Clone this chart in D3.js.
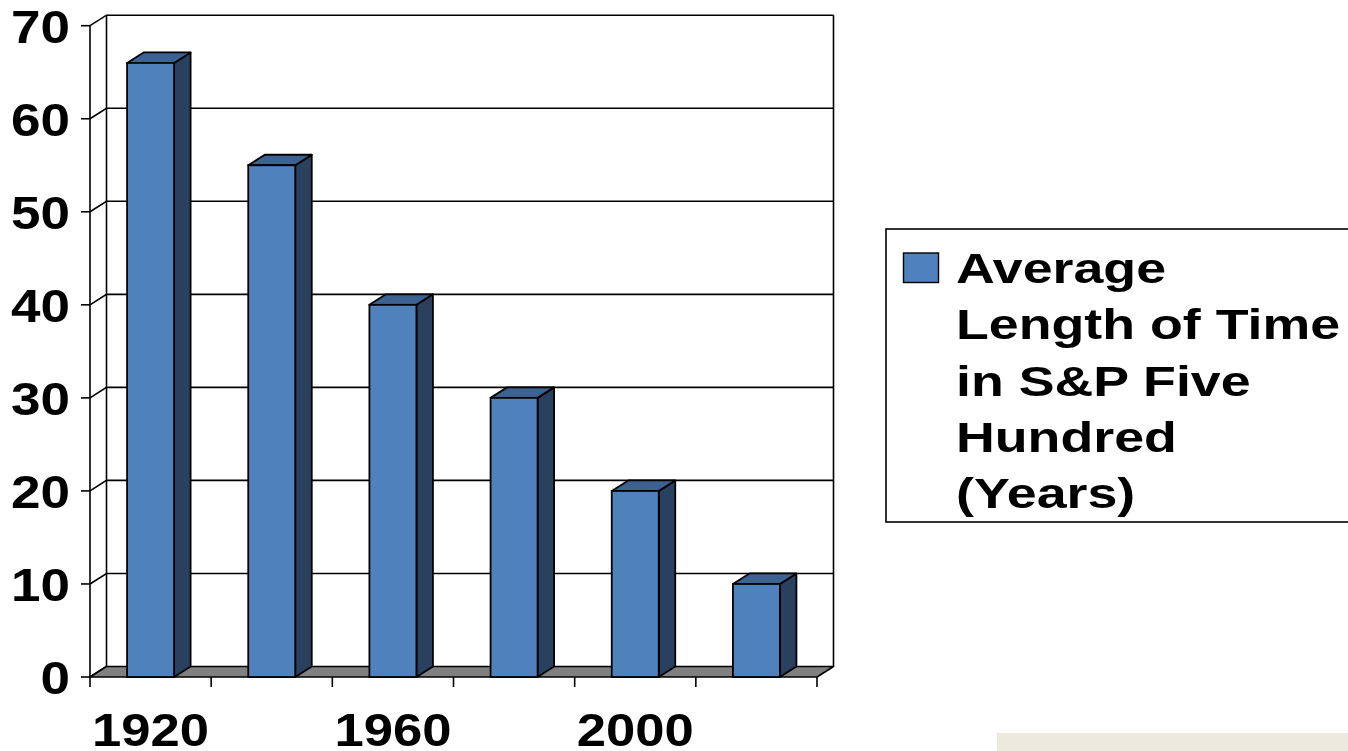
<!DOCTYPE html>
<html>
<head>
<meta charset="utf-8">
<script src="https://cdn.jsdelivr.net/npm/d3@7"></script>
<style>
  html, body { margin: 0; padding: 0; background: #fff; }
  svg { display: block; font-family: "Liberation Sans", Arial, sans-serif; font-weight: bold; }
</style>
</head>
<body>
<svg id="chart" width="1348" height="751"></svg>
<script>
// data
const years = ['1920', '1940', '1960', '1980', '2000', '2020'];
const avgYears = [66, 55, 40, 30, 20, 10];
const yTicks = [0, 10, 20, 30, 40, 50, 60, 70];
const xLabelYears = ['1920', '1960', '2000'];
const legendLines = ['Average', 'Length of Time', 'in S&P Five', 'Hundred', '(Years)'];

(function(){
  const svg = d3.select('#chart');

  // front plane of the 3d box, and the depth offset to the back wall
  const pL = 90, pR = 817, pB = 677, pT = 25.7;
  const dx = 16.5, dy = -10.5;

  const x = d3.scaleBand().domain(years).range([pL, pR])
    .paddingInner(0.612).paddingOuter(0.306);
  const y = d3.scaleLinear().domain([0, 70]).range([pB, pT]);
  const step = x.step();
  const edges = d3.range(years.length + 1).map(i => pL + i * step);

  const g = svg.append('g');

  // back wall gridlines + side-wall diagonals
  yTicks.forEach(t => {
    const yy = y(t);
    g.append('path')
      .attr('d', `M${pL},${yy}L${pL + dx},${yy + dy}` + (t > 0 ? `H${pR + dx}` : ''))
      .attr('fill', 'none').attr('stroke', '#000').attr('stroke-width', 1.6);
    g.append('line')
      .attr('x1', pL - 9).attr('x2', pL).attr('y1', yy).attr('y2', yy)
      .attr('stroke', '#000').attr('stroke-width', 1.6);
  });

  // back wall frame
  g.append('path')
    .attr('d', `M${pL + dx},${pB + dy}V${pT + dy}M${pR + dx},${pT + dy}V${pB + dy}`)
    .attr('fill', 'none').attr('stroke', '#000').attr('stroke-width', 1.6);

  // floor
  g.append('path')
    .attr('d', `M${pL},${pB}L${pR},${pB}L${pR + dx},${pB + dy}L${pL + dx},${pB + dy}Z`)
    .attr('fill', '#808080').attr('stroke', '#000').attr('stroke-width', 1.6).attr('stroke-linejoin', 'round');

  // front axis line and x ticks
  g.append('line')
    .attr('x1', pL).attr('x2', pL).attr('y1', pT).attr('y2', pB)
    .attr('stroke', '#000').attr('stroke-width', 1.6);
  g.selectAll('.xtick').data(edges).join('line')
    .attr('class', 'xtick')
    .attr('x1', d => d).attr('x2', d => d).attr('y1', pB).attr('y2', pB + 10)
    .attr('stroke', '#000').attr('stroke-width', 1.6);

  // 3d bars
  const bars = g.selectAll('.bar').data(years.map((yr, i) => ({ yr, v: avgYears[i] }))).join('g')
    .attr('class', 'bar');
  const bw = x.bandwidth();
  bars.append('path') // side
    .attr('d', d => {
      const x1 = x(d.yr) + bw, y0 = y(d.v);
      return `M${x1},${pB}L${x1 + dx},${pB + dy}L${x1 + dx},${y0 + dy}L${x1},${y0}Z`;
    })
    .attr('fill', '#29405F').attr('stroke', '#000').attr('stroke-width', 1.8).attr('stroke-linejoin', 'round');
  bars.append('path') // top
    .attr('d', d => {
      const x0 = x(d.yr), y0 = y(d.v);
      return `M${x0},${y0}L${x0 + bw},${y0}L${x0 + bw + dx},${y0 + dy}L${x0 + dx},${y0 + dy}Z`;
    })
    .attr('fill', '#3C6291').attr('stroke', '#000').attr('stroke-width', 1.8).attr('stroke-linejoin', 'round');
  bars.append('rect') // front
    .attr('x', d => x(d.yr)).attr('y', d => y(d.v))
    .attr('width', bw).attr('height', d => pB - y(d.v))
    .attr('fill', '#4F81BD').attr('stroke', '#000').attr('stroke-width', 1.8);

  // y labels
  g.selectAll('.ylab').data(yTicks).join('text')
    .attr('class', 'ylab')
    .attr('transform', d => `translate(70,${y(d) + 17}) scale(1.14,1)`)
    .attr('text-anchor', 'end').attr('font-size', 46.5)
    .text(d => d);

  // x labels
  g.selectAll('.xlab').data(xLabelYears).join('text')
    .attr('class', 'xlab')
    .attr('transform', d => `translate(${x(d) + bw / 2},746) scale(1.12,1)`)
    .attr('text-anchor', 'middle').attr('font-size', 47)
    .text(d => d);

  // legend
  const lg = svg.append('g');
  lg.append('rect')
    .attr('x', 886).attr('y', 229).attr('width', 470).attr('height', 293)
    .attr('fill', '#fff').attr('stroke', '#000').attr('stroke-width', 1.6);
  lg.append('rect')
    .attr('x', 903.5).attr('y', 253).attr('width', 35).attr('height', 29.5)
    .attr('fill', '#4F81BD').attr('stroke', '#000').attr('stroke-width', 1.4);
  lg.selectAll('.leg').data(legendLines).join('text')
    .attr('class', 'leg')
    .attr('transform', (d, i) => `translate(956,${283 + i * 56.3}) scale(1.25,1)`)
    .attr('font-size', 43)
    .text(d => d);

  // beige strip bottom right
  svg.append('rect')
    .attr('x', 997).attr('y', 733).attr('width', 351).attr('height', 18)
    .attr('fill', '#ECE9DF');
})();
</script>
</body>
</html>
